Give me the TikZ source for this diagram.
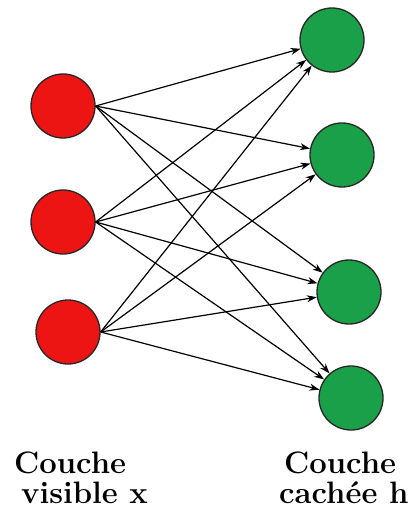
\documentclass[tikz,border=0pt]{standalone}
\usetikzlibrary{arrows.meta}
\definecolor{vred}{RGB}{237,20,20}
\definecolor{hgreen}{RGB}{26,160,72}
\begin{document}
\begin{tikzpicture}[x=1pt,y=-1pt,
  unit/.style={circle,draw=black!85,line width=1.3pt,minimum size=64pt,inner sep=0pt},
  vis/.style={unit,fill=vred},
  hid/.style={unit,fill=hgreen},
  conn/.style={line width=1.2pt,-{Stealth[length=10pt,width=7pt]}},
  lbl/.style={anchor=base west,inner sep=0pt,font=\fontsize{31}{34}\selectfont\bfseries}]
\useasboundingbox[fill=white] (0,0) rectangle (417,510);
\node[vis] (v1) at (63,106) {};
\node[vis] (v2) at (63,222) {};
\node[vis] (v3) at (68,332) {};
\node[hid] (h1) at (332,40) {};
\node[hid] (h2) at (342,155) {};
\node[hid] (h3) at (349,292) {};
\node[hid] (h4) at (351,398) {};
\foreach \v in {v1,v2,v3}{
  \foreach \h in {h1,h2,h3,h4}{
    \draw[conn] (\v.east) -- (\h);
  }
}
\node[lbl] (l1) at (14,473) {Couche};
\node[lbl] (l2) at (21,503) {visible x};
\node[lbl] (r1) at (284,473) {Couche};
\node[lbl] (r2) at (279,503) {cachée h};
\end{tikzpicture}
\end{document}
